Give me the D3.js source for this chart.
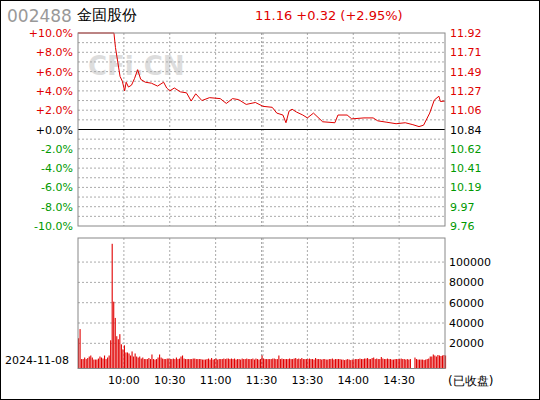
<!DOCTYPE html><html><head><meta charset="utf-8">
<script src="https://cdn.jsdelivr.net/npm/d3@7"></script>
<style>body{margin:0;background:#fff}svg{display:block}text{font-family:"DejaVu Sans",sans-serif}</style></head><body>
<svg id="c" width="540" height="400"></svg>
<script>
const prevClose = 10.84;
const pctTicks = [10,8,6,4,2,0,-2,-4,-6,-8,-10];
const priceTicks = ["11.92","11.71","11.49","11.27","11.06","10.84","10.62","10.41","10.19","9.97","9.76"];
const timeTicks = [[30,"10:00"],[60,"10:30"],[90,"11:00"],[120,"11:30"],[150,"13:30"],[180,"14:00"],[210,"14:30"]];
const volTicks = [20000,40000,60000,80000,100000];
const lineMin = [0,23.5,24.5,26,27.5,29,30.5,31.5,33,35,37,39,41,44,48,52,56,58,60,63,67,71,74,77,81,86,93,97,101,105,110,116,121,127,130,134,136,138,140,143,147,150,154,160,168,170,176,179,187,193,196,202,208,214,219,223,226,230,233,236,237,240];
const linePct = [10,10,8.5,7.0,5.5,5.0,4.0,4.9,4.4,4.6,5.3,6.2,5.2,4.9,4.8,4.5,4.9,4.3,4.0,4.3,3.9,3.8,2.95,3.7,3.0,3.3,3.2,2.7,3.2,3.1,2.6,2.8,2.4,2.3,1.7,1.5,0.7,1.9,2.1,1.8,1.5,1.2,1.7,0.8,0.7,1.5,1.5,1.1,1.2,1.2,0.9,0.75,0.6,0.7,0.5,0.3,0.45,1.7,3.05,3.45,2.9,2.95];
const volume = [
25000,34000,4500,4500,6000,4500,5500,7000,8000,6000,
4000,4000,4000,5000,7000,6000,5000,8000,4500,6000,
8000,23000,118000,61000,45000,27000,24000,29000,19000,14000,
18000,11000,11000,10000,8000,12000,7000,10000,7000,6000,
7000,5000,6000,4500,4500,4500,5500,4500,9000,4500,
4000,4500,6000,9000,6000,5000,4500,4500,5000,5000,
4500,4500,5000,4500,6000,4500,5000,7000,8000,5000,
4500,4500,4500,4500,4500,5000,5000,4500,4500,4500,
4500,4000,4000,4000,4500,5000,4000,5500,4000,4500,
5000,4000,4500,4500,4500,5000,4500,5000,5000,4500,
5000,4500,5000,4000,4500,4500,4000,5000,4500,4500,
5000,4500,4500,4500,5000,4000,5000,4500,4000,4500,
8000,5000,4500,4500,4500,4500,4500,5000,5000,4500,
4500,8000,4500,5000,4500,4500,4500,4500,5000,4500,
4500,5000,5500,4500,5000,4500,5500,4500,4500,4500,
4500,5000,4500,4500,4000,5500,4500,4500,4500,4000,
4500,4500,4000,4000,4500,4500,5000,4000,4500,4500,
4500,4500,4000,4000,3500,4000,4500,4000,3500,4000,
4000,4500,4500,4500,5000,4500,4500,5000,5000,5500,
4500,4500,5500,6000,4500,5000,4500,4500,6500,5000,
4500,4500,5000,4500,4500,4000,4000,4500,4500,4500,
4500,5000,4500,4500,4000,4500,4000,4500,0,0,
6000,4500,4000,4000,4000,4000,3500,4000,4500,5000,
7000,7000,9000,8000,7000,8500,8000,7500,8000,8500,8000];
const svg = d3.select("#c");
const L=78,R=445,PT=33,PB=226,VT=238,VB=368.5;
const x = d3.scaleLinear().domain([0,240]).range([L,R]);
const y = d3.scaleLinear().domain([-10,10]).range([PB,PT]);
const yv = d3.scaleLinear().domain([-4800,123700]).range([VB,VT]);
const red="#e00000", green="#009900", grid="#aaa";
svg.append("rect").attr("x",0.5).attr("y",0.5).attr("width",539).attr("height",399).attr("fill","#fff").attr("stroke","#000");
svg.append("text").attr("x",7).attr("y",22).attr("font-size",17).attr("fill","#999").text("002488");
svg.append("text").attr("x",77).attr("y",20).attr("font-size",15).attr("fill","#000").text("金固股份");
svg.append("text").attr("x",255).attr("y",20).attr("font-size",13).attr("fill",red).attr("xml:space","preserve").text("11.16 +0.32 (+2.95%)");
svg.append("text").attr("x",88).attr("y",75).attr("font-size",26).attr("font-weight","bold").attr("fill","#ddd").text("CFi.CN");
for(let p=-9;p<=9;p++){ if(p===0) continue;
  svg.append("line").attr("x1",L).attr("x2",R).attr("y1",y(p)).attr("y2",y(p)).attr("stroke",grid).attr("stroke-dasharray","2,2");}
timeTicks.forEach(([m])=>{
  [[PT,PB],[VT,VB]].forEach(([a,b])=>svg.append("line").attr("x1",x(m)).attr("x2",x(m)).attr("y1",a).attr("y2",b).attr("stroke",grid).attr("stroke-dasharray","2,2"));
});
[[PT,PB],[VT,VB]].forEach(([a,b])=>svg.append("line").attr("x1",x(120)+1.5).attr("x2",x(120)+1.5).attr("y1",a).attr("y2",b).attr("stroke",grid).attr("stroke-dasharray","2,2"));
volTicks.forEach(v=>svg.append("line").attr("x1",L).attr("x2",R).attr("y1",yv(v)).attr("y2",yv(v)).attr("stroke",grid).attr("stroke-dasharray","2,2"));
svg.append("line").attr("x1",L).attr("x2",R).attr("y1",y(0)).attr("y2",y(0)).attr("stroke","#000").attr("stroke-width",1.2);
pctTicks.forEach((p,i)=>{
  const c = p>0?red:(p<0?green:"#000");
  svg.append("text").attr("x",L-5).attr("y",y(p)+4).attr("text-anchor","end").attr("font-size",11).attr("fill",c).text((p>=0?"+":"")+p.toFixed(1)+"%");
  svg.append("text").attr("x",R+5).attr("y",y(p)+4).attr("font-size",11).attr("fill",c).text(priceTicks[i]);
});
volTicks.forEach(v=>svg.append("text").attr("x",R+4).attr("y",yv(v)+4).attr("font-size",11).attr("fill","#000").text(v));
timeTicks.forEach(([m,t])=>svg.append("text").attr("x",x(m)).attr("y",384).attr("text-anchor","middle").attr("font-size",11).attr("fill","#000").text(t));
svg.append("text").attr("x",5).attr("y",364).attr("font-size",11).attr("fill","#000").text("2024-11-08");
svg.append("text").attr("x",448).attr("y",385).attr("font-size",12).attr("fill","#000").text("(已收盘)");
const pts = lineMin.map((m,i)=>[m,linePct[i]]);
svg.append("path").datum(pts).attr("fill","none").attr("stroke",red).attr("stroke-width",1)
  .attr("d",d3.line().x(d=>x(d[0])).y(d=>y(d[1])));
svg.selectAll(".v").data(volume).join("rect").attr("x",(d,i)=>x(i)).attr("width",1.1)
  .attr("y",d=>yv(d)).attr("height",d=>d>0?VB-yv(d):0).attr("fill",red);
svg.append("rect").attr("x",L).attr("y",PT).attr("width",R-L).attr("height",PB-PT).attr("fill","none").attr("stroke","#888");
svg.append("rect").attr("x",L).attr("y",VT).attr("width",R-L).attr("height",VB-VT).attr("fill","none").attr("stroke","#888");
</script></body></html>
